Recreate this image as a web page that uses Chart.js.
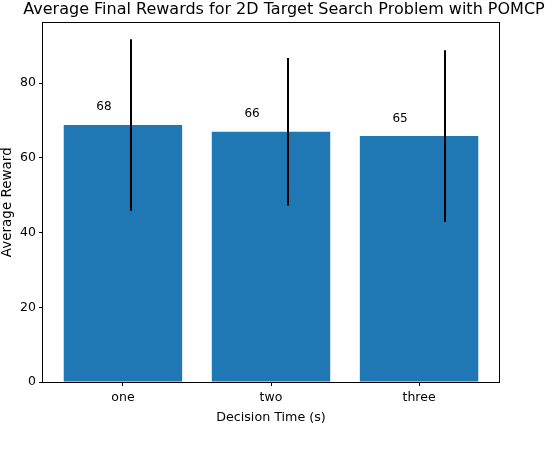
<!DOCTYPE html>
<html>
<head>
<meta charset="utf-8">
<script src="https://cdn.jsdelivr.net/npm/chart.js@4.4.1/dist/chart.umd.min.js"></script>
<style>
  html, body { margin: 0; padding: 0; background: #fff; }
  #myChart { display: block; }
</style>
</head>
<body>
<canvas id="myChart" width="556" height="456"></canvas>
<script>
const categories = ["one", "two", "three"];
const means = [68.75, 66.95, 65.85];
const errors = [22.95, 19.75, 22.95];
// error bars sit slightly right of each bar centre in the source
const errorX = [0.054, 1.115, 2.176];
const barLabels = ["68", "66", "65"];
const yTicks = [0, 20, 40, 60, 80];

const FONT = "'DejaVu Sans', sans-serif";

const extras = {
    id: "extras",
    afterDatasetsDraw(chart) {
        const { ctx, chartArea, scales } = chart;
        const x = scales.x, y = scales.y;
        ctx.save();
        // error bars
        ctx.strokeStyle = "#000";
        ctx.lineWidth = 2;
        errorX.forEach((ex, i) => {
            const px = Math.round(x.getPixelForValue(ex));
            ctx.beginPath();
            ctx.moveTo(px, y.getPixelForValue(means[i] - errors[i]));
            ctx.lineTo(px, y.getPixelForValue(means[i] + errors[i]));
            ctx.stroke();
        });
        // value labels
        ctx.fillStyle = "#000";
        ctx.font = "12px " + FONT;
        ctx.textAlign = "center";
        ctx.textBaseline = "bottom";
        barLabels.forEach((t, i) => {
            ctx.fillText(t, x.getPixelForValue(i - 0.128), y.getPixelForValue(means[i] * 1.05) + 1);
        });
        // axes box
        const l = Math.floor(chartArea.left), r = Math.floor(chartArea.right);
        const t = Math.floor(chartArea.top), b = Math.floor(chartArea.bottom);
        ctx.strokeStyle = "#000";
        ctx.lineWidth = 1;
        ctx.strokeRect(l - 0.5, t + 0.5, r - l + 1, b - t);
        // title
        ctx.font = "16px " + FONT;
        ctx.textBaseline = "alphabetic";
        ctx.fillText("Average Final Rewards for 2D Target Search Problem with POMCP", 284, 14);
        ctx.restore();
    },
};

new Chart(document.getElementById("myChart"), {
    type: "bar",
    data: {
        datasets: [
            {
                data: categories.map((c, i) => ({ x: i, y: means[i] })),
                backgroundColor: "#1f77b4",
                borderWidth: 0,
                categoryPercentage: 1,
                barPercentage: 0.8,
            },
        ],
    },
    options: {
        responsive: false,
        animation: false,
        devicePixelRatio: 1,
        layout: { padding: { left: 0, right: 57, top: 22.5, bottom: 0 } },
        plugins: {
            legend: { display: false },
            tooltip: { enabled: false },
        },
        scales: {
            x: {
                type: "linear",
                offset: false,
                min: -0.54,
                max: 2.54,
                afterBuildTicks: (s) => { s.ticks = categories.map((c, i) => ({ value: i })); },
                afterFit: (s) => { s.height = 74; },
                grid: { offset: false, drawOnChartArea: false, drawTicks: true, tickLength: 4, tickWidth: 1, tickColor: "#000" },
                border: { display: false },
                ticks: {
                    color: "#000",
                    font: { family: FONT, size: 12.5 },
                    padding: 4,
                    maxRotation: 0,
                    callback: (v) => categories[v],
                },
                title: {
                    display: true,
                    text: "Decision Time (s)",
                    color: "#000",
                    font: { family: FONT, size: 12.7 },
                    padding: { top: 0, bottom: 30.5 },
                },
            },
            y: {
                min: 0,
                max: 96.2,
                afterBuildTicks: (s) => { s.ticks = yTicks.map((v) => ({ value: v })); },
                afterFit: (s) => { s.width = 43; },
                grid: { drawOnChartArea: false, drawTicks: true, tickLength: 4, tickWidth: 1, tickColor: "#000" },
                border: { display: false },
                ticks: {
                    color: "#000",
                    font: { family: FONT, size: 12.5 },
                    padding: 3,
                },
                title: {
                    display: true,
                    text: "Average Reward",
                    color: "#000",
                    font: { family: FONT, size: 13.5 },
                    padding: { top: -1, bottom: 0 },
                },
            },
        },
    },
    plugins: [extras],
});
</script>
</body>
</html>
